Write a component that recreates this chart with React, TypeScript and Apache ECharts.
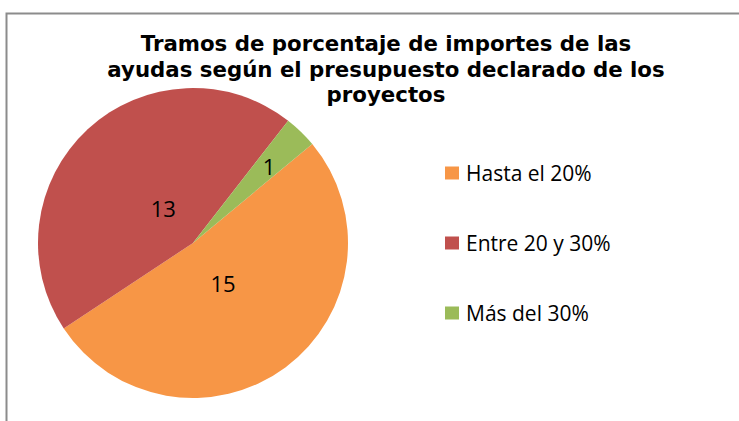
import React, { useEffect, useRef } from "react";
import * as echarts from "echarts";

const titleLines = [
  "Tramos de porcentaje de importes de las",
  "ayudas según el presupuesto declarado de los",
  "proyectos",
];
const categories = ["Hasta el 20%", "Entre 20 y 30%", "Más del 30%"];
const values = [15, 13, 1];
const colors = ["#F79646", "#C0504D", "#9BBB59"];
const labelNudges: [number, number][] = [
  [-18, -25],
  [25, 24],
  [20, -19],
];

export default function App() {
  const ref = useRef<HTMLDivElement>(null);
  useEffect(() => {
    if (!ref.current) return;
    const chart = echarts.init(ref.current, null, { renderer: "svg" });
    chart.setOption({
      animation: false,
      backgroundColor: "#ffffff",
      title: {
        text: titleLines.join("\n"),
        left: 386,
        top: 31,
        padding: 0,
        textAlign: "center",
        textStyle: {
          fontFamily: "DejaVu Sans",
          fontWeight: "bold",
          fontSize: 21.3,
          lineHeight: 25.5,
          color: "#000000",
        },
      },
      legend: {
        orient: "vertical",
        left: 445,
        top: 162,
        padding: 0,
        itemWidth: 14,
        itemHeight: 13,
        itemGap: 48,
        icon: "rect",
        selectedMode: false,
        textStyle: {
          fontFamily: "Open Sans",
          fontSize: 21,
          lineHeight: 22,
          color: "#000000",
          padding: [0, 0, 0, 2],
        },
        data: categories,
      },
      graphic: [
        {
          type: "rect",
          shape: { x: 6.5, y: 13.5, width: 800, height: 500 },
          style: { fill: "none", stroke: "#8c8c8c", lineWidth: 2 },
          silent: true,
        },
      ],
      series: [
        {
          type: "pie",
          center: [193, 243],
          radius: [0, 155],
          startAngle: 39.7,
          clockwise: true,
          itemStyle: { borderWidth: 0 },
          label: {
            show: true,
            position: "inside",
            formatter: "{c}",
            fontFamily: "Open Sans",
            fontSize: 22,
            color: "#000000",
          },
          labelLayout: (p: any) => ({
            dx: labelNudges[p.dataIndex][0],
            dy: labelNudges[p.dataIndex][1],
          }),
          emphasis: { disabled: true },
          data: categories.map((name, i) => ({
            name,
            value: values[i],
            itemStyle: { color: colors[i] },
          })),
        },
      ],
    });
    return () => chart.dispose();
  }, []);
  return (
    <div
      ref={ref}
      style={{ position: "fixed", left: 0, top: 0, width: 739, height: 421 }}
    />
  );
}
